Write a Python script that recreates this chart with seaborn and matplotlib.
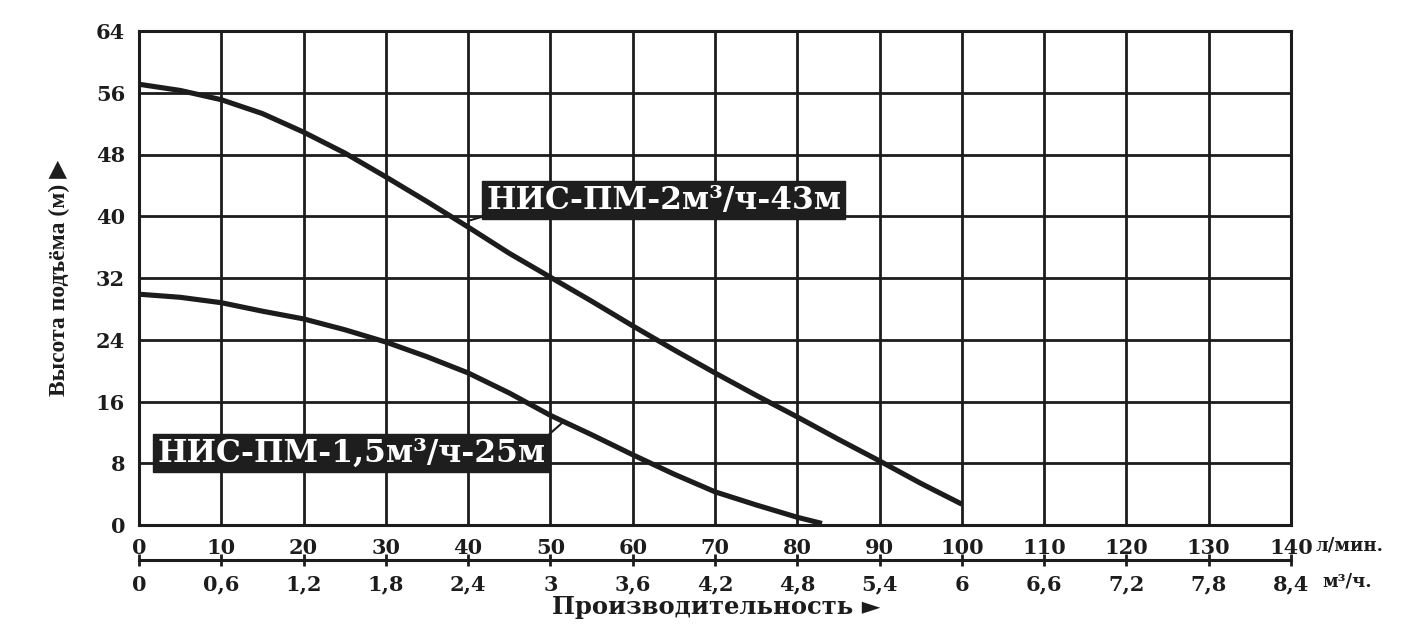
import matplotlib
matplotlib.use("Agg")
import matplotlib.pyplot as plt
import seaborn as sns
import pandas as pd
import numpy as np

# flow in l/min and head in metres
flow_2m3 = [0, 5, 10, 15, 20, 25, 30, 35, 40, 45, 50,
            55, 60, 65, 70, 75, 80, 85, 90, 95, 100]
head_2m3 = [57.1, 56.3, 55.1, 53.3, 50.9, 48.2, 45.1, 41.9, 38.6, 35.2, 32.1,
            29.0, 25.8, 22.7, 19.7, 16.8, 14.0, 11.1, 8.3, 5.4, 2.7]

flow_15m3 = [0, 5, 10, 15, 20, 25, 30, 35, 40, 45, 50,
             55, 60, 65, 70, 75, 80, 83]
head_15m3 = [29.9, 29.5, 28.8, 27.7, 26.7, 25.3, 23.7, 21.8, 19.7, 17.1, 14.2,
             11.7, 9.1, 6.6, 4.3, 2.6, 1.0, 0.2]

name_2m3 = "НИС-ПМ-2м³/ч-43м"
name_15m3 = "НИС-ПМ-1,5м³/ч-25м"

x_ticks = list(range(0, 141, 10))
y_ticks = list(range(0, 65, 8))
m3_ticks = [0, 0.6, 1.2, 1.8, 2.4, 3, 3.6, 4.2, 4.8, 5.4, 6, 6.6, 7.2, 7.8, 8.4]
m3_labels = ["0", "0,6", "1,2", "1,8", "2,4", "3", "3,6", "4,2", "4,8", "5,4",
             "6", "6,6", "7,2", "7,8", "8,4"]

df = pd.concat([
    pd.DataFrame({"flow": flow_2m3, "head": head_2m3, "pump": name_2m3}),
    pd.DataFrame({"flow": flow_15m3, "head": head_15m3, "pump": name_15m3}),
])

sns.set_style("white")
plt.rcParams['font.family'] = ['DejaVu Serif', 'DejaVu Sans']
plt.rcParams['font.weight'] = 'bold'
times = ['Liberation Serif', 'DejaVu Sans']

ink = "#1c1c1c"
fig = plt.figure(figsize=(14.16, 6.35), dpi=100)
ax = fig.add_axes([139 / 1416, 1 - 525 / 635, 1152 / 1416, 494 / 635])

sns.lineplot(data=df, x="flow", y="head", units="pump", estimator=None,
             color=ink, linewidth=3.7, ax=ax, sort=False, legend=False)
for ln in ax.lines:
    ln.set_solid_capstyle("butt")
    ln.set_solid_joinstyle("round")

ax.set_xlim(0, 140)
ax.set_ylim(0, 64)
ax.set_xticks(x_ticks)
ax.set_yticks(y_ticks)
ax.grid(True, color=ink, linewidth=2)
ax.set_axisbelow(True)
for s in ax.spines.values():
    s.set_color(ink)
    s.set_linewidth(2.2)
ax.tick_params(axis="x", length=0, pad=9, labelsize=15, colors=ink)
ax.tick_params(axis="y", length=0, pad=10, labelsize=15, colors=ink)
ax.set_xlabel("")
ax.set_ylabel("")

# second flow scale in m3/h
sec = ax.secondary_xaxis(-0.071, functions=(lambda x: x * 0.06, lambda x: x / 0.06))
sec.set_xticks(m3_ticks)
sec.set_xticklabels(m3_labels)
sec.spines["bottom"].set_linewidth(2.2)
sec.spines["bottom"].set_color(ink)
sec.tick_params(axis="x", direction="inout", length=9, width=2, pad=6,
                labelsize=15, colors=ink)

box = dict(boxstyle="square,pad=0.12", fc="#1e1e1e", ec="#1e1e1e")
ax.annotate(name_2m3, xy=(40.0, 39.4), xytext=(42.2, 42.1),
            ha="left", va="center", fontsize=22.5, color="white", bbox=box,
            arrowprops=dict(arrowstyle="-", color=ink, lw=1.5, relpos=(0, 0),
                            shrinkA=0, shrinkB=0))
ax.annotate(name_15m3, xy=(51.5, 13.3), xytext=(2.2, 9.3),
            ha="left", va="center", fontsize=22.5, color="white", bbox=box,
            arrowprops=dict(arrowstyle="-", color=ink, lw=1.5, relpos=(1, 1),
                            shrinkA=0, shrinkB=0))

fig.text(59 / 1416, 1 - 278 / 635, "Высота подъёма (м) ▶", rotation=90,
         ha="center", va="center", fontsize=17, color=ink, family=times)
fig.text(716 / 1416, 1 - 607 / 635, "Производительность ►",
         ha="center", va="center", fontsize=17.5, color=ink)
fig.text(1316 / 1416, 1 - 546 / 635, "л/мин.", ha="left", va="center",
         fontsize=13, color=ink)
fig.text(1322 / 1416, 1 - 581 / 635, "м³/ч.", ha="left", va="center",
         fontsize=13, color=ink)

fig.savefig("out.png", dpi=100, facecolor="white")
